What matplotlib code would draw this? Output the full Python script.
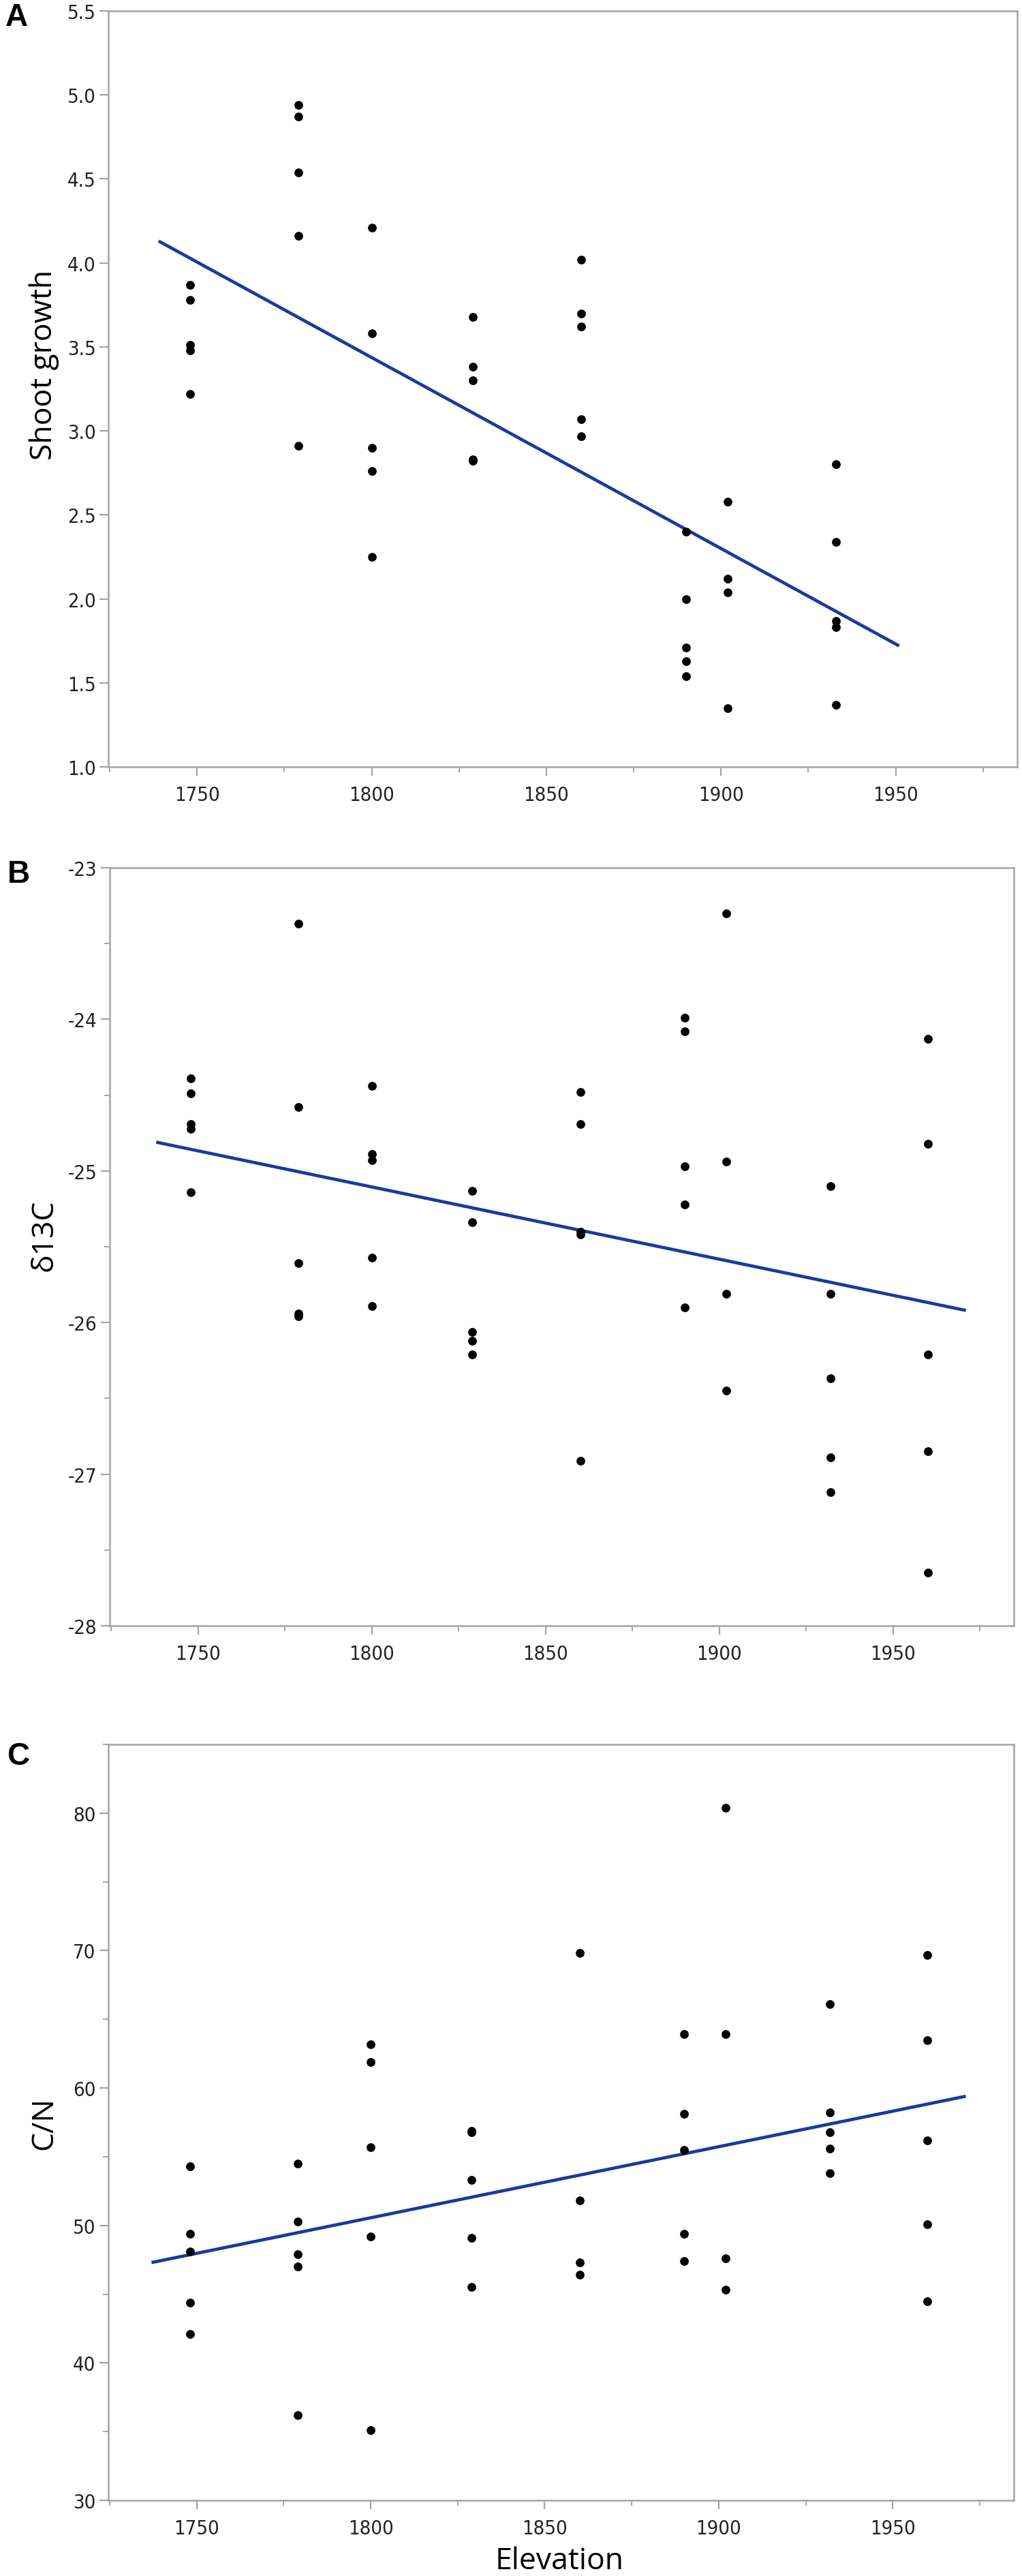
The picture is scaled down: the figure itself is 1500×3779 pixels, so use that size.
import matplotlib
matplotlib.use("Agg")
import matplotlib.pyplot as plt
from matplotlib.ticker import MultipleLocator
from matplotlib import font_manager
import numpy as np

# ---------------- data ----------------
elev_a = [1748]*5 + [1779]*5 + [1800]*5 + [1829]*5 + [1860]*5 + [1890]*5 + [1902]*4 + [1933]*5
shoot_growth = [3.87, 3.78, 3.51, 3.48, 3.22,
                4.94, 4.87, 4.54, 4.16, 2.91,
                4.21, 3.58, 2.90, 2.76, 2.25,
                3.68, 3.38, 3.30, 2.83, 2.82,
                4.02, 3.70, 3.62, 3.07, 2.97,
                2.40, 2.00, 1.71, 1.63, 1.54,
                2.58, 2.12, 2.04, 1.35,
                2.80, 2.34, 1.87, 1.83, 1.37]
fit_a_x = [1739, 1951]
fit_a_y = [4.13, 1.72]

elev_b = [1748]*5 + [1779]*5 + [1800]*5 + [1829]*5 + [1860]*5 + [1890]*5 + [1902]*4 + [1932]*5 + [1960]*5
d13c = [-24.39, -24.49, -24.69, -24.72, -25.14,
        -23.37, -24.58, -25.61, -25.94, -25.96,
        -24.44, -24.89, -24.93, -25.57, -25.89,
        -25.13, -25.34, -26.06, -26.12, -26.21,
        -24.48, -24.69, -25.40, -25.42, -26.91,
        -23.99, -24.08, -24.97, -25.22, -25.90,
        -23.30, -24.94, -25.81, -26.45,
        -25.10, -25.81, -26.37, -26.89, -27.12,
        -24.13, -24.82, -26.21, -26.85, -27.65]
fit_b_x = [1738, 1971]
fit_b_y = [-24.81, -25.92]

elev_c = [1748]*5 + [1779]*5 + [1800]*5 + [1829]*5 + [1860]*4 + [1890]*5 + [1902]*4 + [1932]*5 + [1960]*5
cn = [54.3, 49.4, 48.1, 44.4, 42.1,
      54.5, 50.3, 47.9, 47.0, 36.2,
      63.2, 61.9, 55.7, 49.2, 35.1,
      56.9, 56.8, 53.3, 49.1, 45.5,
      69.8, 51.8, 47.3, 46.4,
      63.9, 58.1, 55.5, 49.4, 47.4,
      80.4, 63.9, 47.6, 45.3,
      66.1, 58.2, 56.8, 55.6, 53.8,
      69.7, 63.5, 56.2, 50.1, 44.5]
fit_c_x = [1737, 1971]
fit_c_y = [47.3, 59.4]

x_ticks = [1750, 1800, 1850, 1900, 1950]

# ---------------- styling ----------------
W, H = 1500, 3780
DPI = 100
SPINE = "#a4a4a4"
LINE = "#1b3a9a"
LABELFONT = ["Open Sans", "DejaVu Sans"]

# pick a condensed face for tick labels if one is installed
names = {f.name for f in font_manager.fontManager.ttflist}
cond = [f for f in font_manager.fontManager.ttflist
        if ("Narrow" in f.name or "Condensed" in f.name or f.stretch in ("condensed", "semi-condensed"))]
if "Liberation Sans Narrow" in names:
    TICKPROPS = dict(family=["Liberation Sans Narrow", "DejaVu Sans"])
elif cond:
    TICKPROPS = dict(family=[cond[0].name, "DejaVu Sans"], stretch=cond[0].stretch)
else:
    TICKPROPS = dict(family=["DejaVu Sans"], stretch="condensed")

fig = plt.figure(figsize=(W / DPI, H / DPI), dpi=DPI)
fig.patch.set_facecolor("white")


def px_rect(left, right, top, bottom):
    return [left / W, 1 - bottom / H, (right - left) / W, (bottom - top) / H]


panels = [
    dict(rect=px_rect(159, 1493, 17, 1126), x=elev_a, y=shoot_growth, fx=fit_a_x, fy=fit_a_y,
         ylim=(1.0, 5.5), ymaj=0.5, ymin=None, yfmt="%.1f", ylabel="Shoot growth",
         ylab_pos=(-0.0705, 0.533), letter="A", letter_pos=(24, 26), xlabel=None),
    dict(rect=px_rect(161, 1488, 1274, 2386), x=elev_b, y=d13c, fx=fit_b_x, fy=fit_b_y,
         ylim=(-28, -23), ymaj=1, ymin=0.5, yfmt="%d", ylabel="δ13C",
         ylab_pos=(-0.0723, 0.516), letter="B", letter_pos=(27, 1283), xlabel=None),
    dict(rect=px_rect(159, 1488, 2560, 3669), x=elev_c, y=cn, fx=fit_c_x, fy=fit_c_y,
         ylim=(30, 85), ymaj=10, ymin=5, yfmt="%d", ylabel="C/N",
         ylab_pos=(-0.0705, 0.4995), letter="C", letter_pos=(27, 2577), xlabel="Elevation"),
]

for p in panels:
    ax = fig.add_axes(p["rect"])
    ax.scatter(p["x"], p["y"], s=85, color="black", zorder=3, linewidths=0)
    ax.plot(p["fx"], p["fy"], color=LINE, lw=3.4, zorder=2, solid_capstyle="butt")
    ax.set_xlim(1724.6, 1984.8)
    ax.set_ylim(*p["ylim"])
    ax.set_xticks(x_ticks)
    ax.xaxis.set_minor_locator(MultipleLocator(25))
    if p["ymin"]:
        ax.yaxis.set_minor_locator(MultipleLocator(p["ymin"]))
    yt = np.arange(p["ylim"][0], p["ylim"][1] + 1e-9, p["ymaj"])
    yt = [v for v in yt if v <= p["ylim"][1] + 1e-9]
    ax.set_yticks(yt)
    ax.set_yticklabels([p["yfmt"] % v for v in yt])
    ax.set_xticklabels([str(v) for v in x_ticks])
    for s in ax.spines.values():
        s.set_color(SPINE)
        s.set_linewidth(1.8)
    ax.tick_params(which="major", direction="out", length=9.4, width=1.6, color=SPINE,
                   labelsize=21, labelcolor="#222222", pad=4)
    ax.tick_params(which="minor", direction="out", length=5.8, width=1.4, color=SPINE)
    ax.tick_params(axis="x", which="major", pad=10)
    for lab in ax.get_xticklabels() + ax.get_yticklabels():
        lab.set_fontproperties(font_manager.FontProperties(size=21, **TICKPROPS))
    ax.set_ylabel(p["ylabel"], fontsize=32, family=LABELFONT, color="black")
    ax.yaxis.set_label_coords(*p["ylab_pos"])
    ax.yaxis.label.set_va("center")
    if p["xlabel"]:
        ax.set_xlabel(p["xlabel"], fontsize=32, family=LABELFONT, color="black")
        ax.xaxis.set_label_coords(0.498, -0.080)
        ax.xaxis.label.set_va("center")
    lx, ly = p["letter_pos"]
    fig.text(lx / W, 1 - ly / H, p["letter"], fontsize=33, fontweight="bold",
             family=["Liberation Sans", "DejaVu Sans"], ha="center", va="center")

fig.savefig("out.png", dpi=DPI, facecolor="white")
